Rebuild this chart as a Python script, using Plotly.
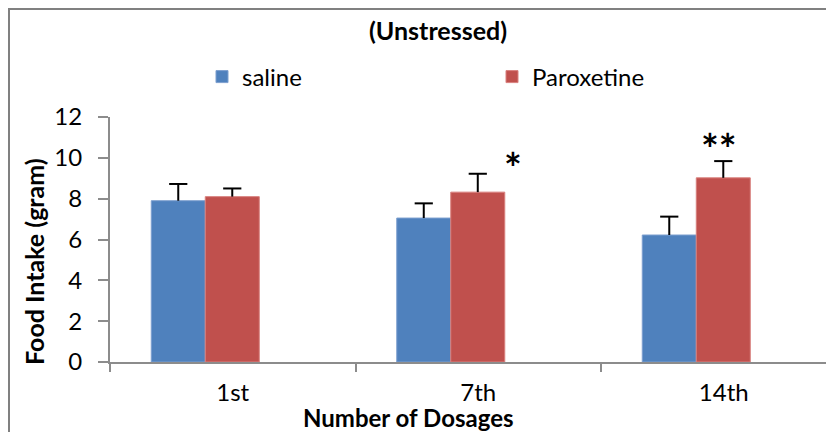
import plotly.graph_objects as go

categories = ["1st", "7th", "14th"]
cat_pos = [0, 1, 2]
saline = [7.9, 7.05, 6.22]
saline_err = [0.82, 0.72, 0.9]
paroxetine = [8.1, 8.32, 9.02]
paroxetine_err = [0.4, 0.9, 0.82]
sig_labels = ["*", "**"]
sig_x = [1.14, 1.98]
sig_y = [9.5, 10.45]
y_ticks = [0, 2, 4, 6, 8, 10, 12]
boundaries = [-0.5, 0.5, 1.5, 2.5]

FONT = "Lato"
AXIS_COLOR = "#8c8c8c"
BAR_W = 0.22
OFF_S = -0.332
OFF_P = -0.112

# page body has an 8px margin; figure occupies 8..834 x 8..432 of the window
PLOT_L, PLOT_T, PLOT_W, PLOT_H = 110, 117, 724, 245   # in window pixels


def px(xw):
    return (xw - PLOT_L) / PLOT_W


def py(yw):
    return (PLOT_T + PLOT_H - yw) / PLOT_H


fig = go.Figure()
series = [
    ("saline", saline, saline_err, OFF_S, "#4F81BD", "#7d9fcf", "legend"),
    ("Paroxetine", paroxetine, paroxetine_err, OFF_P, "#C0504D", "#d9807e", "legend2"),
]
for name, vals, errs, off, col, lcol, leg in series:
    fig.add_trace(go.Bar(
        name=name, x=cat_pos, y=vals, width=BAR_W, offset=off, legend=leg,
        marker=dict(color=col, line=dict(color=lcol, width=1)),
        error_y=dict(type="data", array=errs, arrayminus=[0] * len(errs), symmetric=False,
                     color="black", thickness=2, width=0),
    ))
for name, vals, errs, off, col, lcol, leg in series:
    fig.add_trace(go.Scatter(
        x=[c + off + BAR_W / 2 for c in cat_pos], y=[v + e for v, e in zip(vals, errs)],
        mode="markers", showlegend=False, hoverinfo="skip",
        marker=dict(symbol="line-ew", size=13, line=dict(color="black", width=2)),
    ))

for lbl, xx, yy in zip(sig_labels, sig_x, sig_y):
    fig.add_annotation(x=xx, y=yy, xref="x", yref="y", text=lbl, showarrow=False,
                       xanchor="center", yanchor="middle",
                       font=dict(family=FONT, size=42, color="black", weight="bold"))

# Title, axis titles
fig.add_annotation(x=px(438), y=py(30), xref="paper", yref="paper",
                   xanchor="center", yanchor="middle",
                   text="<b>(Unstressed)</b>", showarrow=False,
                   font=dict(family=FONT, size=25, color="black"))
fig.add_annotation(x=px(408), y=py(417), xref="paper", yref="paper",
                   xanchor="center", yanchor="middle",
                   text="<b>Number of Dosages</b>", showarrow=False,
                   font=dict(family=FONT, size=24, color="black"))
fig.add_annotation(x=px(34), y=py(262), xref="paper", yref="paper",
                   xanchor="center", yanchor="middle",
                   text="<b>Food Intake (gram)</b>", showarrow=False, textangle=-90,
                   font=dict(family=FONT, size=25, color="black"))

# outer frame (cropped chart border)
fig.add_shape(type="rect", xref="paper", yref="paper",
              x0=px(9), x1=1.2, y0=-0.6, y1=py(9),
              line=dict(color="#808080", width=2), layer="below")

leg_common = dict(orientation="h", xanchor="left", yanchor="middle",
                  y=py(77), itemwidth=30,
                  font=dict(family=FONT, size=24), bgcolor="rgba(0,0,0,0)")

fig.update_layout(
    width=826, height=424,
    margin=dict(l=PLOT_L - 8, r=0, t=PLOT_T - 8, b=424 - (PLOT_T - 8) - PLOT_H,
                autoexpand=False),
    paper_bgcolor="white", plot_bgcolor="white",
    barmode="overlay",
    font=dict(family=FONT, size=24, color="black"),
    showlegend=True,
    legend=dict(x=px(202), **leg_common),
    legend2=dict(x=px(492), **leg_common),
    xaxis=dict(range=[-0.5, 2.449], tickmode="array", tickvals=cat_pos, ticktext=categories,
               showline=True, linecolor=AXIS_COLOR, linewidth=2, showgrid=False, zeroline=False,
               ticks="outside", ticklen=0, tickcolor="rgba(0,0,0,0)", ticklabelstandoff=8,
               tickfont=dict(family=FONT, size=24),
               minor=dict(tickmode="array", tickvals=boundaries, ticks="outside",
                          ticklen=8, tickwidth=2, tickcolor=AXIS_COLOR, showgrid=False)),
    yaxis=dict(range=[0, 12], tickmode="array", tickvals=y_ticks,
               showline=True, linecolor=AXIS_COLOR, linewidth=2, showgrid=False, zeroline=False,
               ticks="outside", ticklen=10, tickwidth=2, tickcolor=AXIS_COLOR,
               ticklabelstandoff=11, tickfont=dict(family=FONT, size=24)),
)

fig.write_html("out.html")
